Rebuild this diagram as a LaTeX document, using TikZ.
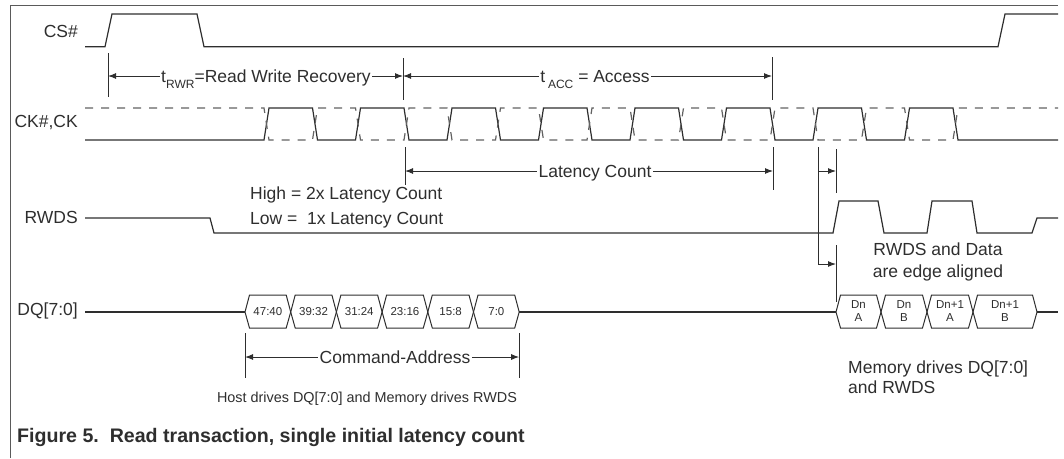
\documentclass[tikz,border=0pt]{standalone}
\usepackage{fontspec}
\setmainfont{Liberation Sans}
\usetikzlibrary{arrows.meta}
\definecolor{ink}{HTML}{2E2E2E}
\definecolor{frame}{HTML}{5A5A5A}

\tikzset{
  wave/.style={draw=ink, line width=1.2pt, line join=miter},
  cknot/.style={draw=ink!75, line width=1.2pt, dash pattern=on 8pt off 8pt},
  lbl/.style={text=ink, font=\fontsize{17.5}{20}\selectfont, inner sep=0pt},
  siglbl/.style={lbl, anchor=east},
  dimtxt/.style={lbl, anchor=base, inner xsep=1.5pt},
  tickln/.style={draw=ink, line width=1pt},
  dimln/.style={draw=ink, line width=1pt},
  arr/.style={-{Latex[length=8pt,width=6pt]}},
  busbox/.style={draw=ink, line width=1pt, line join=miter},
  cell/.style={text=ink, font=\fontsize{11.5}{12.5}\selectfont, inner sep=0pt, align=center},
}

\begin{document}
\begin{tikzpicture}[x=1pt, y=-1pt]
\useasboundingbox (0,0) rectangle (1064,458);

% frame rules
\draw[frame, line width=1pt] (10,458) -- (10,5) -- (1058,5);

% ---------------- CS# ----------------
\node[siglbl] (lcs) at (78,31) {CS\#};
\draw[wave] (85,46.7) -- (105,46.7) -- (112,14) -- (197,14) -- (204,46.7)
  -- (998,46.7) -- (1005,14) -- (1058,14);

% ---------------- timing: tRWR and tACC ----------------
\coordinate (rwrT) at (108,53);  \coordinate (rwrB) at (108,97);
\coordinate (midT) at (403,58);  \coordinate (midB) at (403,100);
\coordinate (accT) at (772,57);  \coordinate (accB) at (772,100);
\draw[tickln] (rwrT) -- (rwrB);
\draw[tickln] (midT) -- (midB);
\draw[tickln] (accT) -- (accB);
\coordinate (rwrL) at (108,76);
\coordinate (midL) at (403,76);
\coordinate (accL) at (772,76);

\node[dimtxt] (trwr) at (266,82.5)
  {t\raisebox{-5.5pt}{\fontsize{12}{12}\selectfont RWR}=Read Write Recovery};
\node[dimtxt] (tacc) at (595,82.5)
  {t\,\raisebox{-6pt}{\fontsize{12}{12}\selectfont ACC} = Access};
\draw[dimln,arr] (trwr.west |- rwrL) -- (rwrL);
\draw[dimln,arr] (trwr.east |- midL) -- (midL);
\draw[dimln,arr] (tacc.west |- midL) -- (midL);
\draw[dimln,arr] (tacc.east |- accL) -- (accL);

% ---------------- CK#, CK ----------------
\node[siglbl] (lck) at (78,123) {CK\#,CK};
\draw[wave] (85,140)
  foreach \k in {0,...,7} {
    -- ({264+91.5*\k},140) -- ({269+91.5*\k},108)
    -- ({312.5+91.5*\k},108) -- ({317.5+91.5*\k},140)
  } -- (1058,140);
\draw[cknot] (85,108)
  foreach \k in {0,...,7} {
    -- ({264+91.5*\k},108) -- ({269+91.5*\k},140)
    -- ({312.5+91.5*\k},140) -- ({317.5+91.5*\k},108)
  } -- (1058,108);

% ---------------- Latency Count ----------------
\coordinate (latT) at (405,147); \coordinate (latB) at (405,185);
\coordinate (latRT) at (773,147); \coordinate (latRB) at (773,190);
\draw[tickln] (latT) -- (latB);
\draw[tickln] (latRT) -- (latRB);
\coordinate (latL) at (405,171);
\coordinate (latR) at (773,171);
\node[dimtxt] (lat) at (595,177.5) {Latency Count};
\draw[dimln,arr] (lat.west |- latL) -- (latL);
\draw[dimln,arr] (lat.east |- latR) -- (latR);

\node[lbl, anchor=west] (hi) at (250,195) {High = 2x Latency Count};
\node[lbl, anchor=west] (lo) at (250,220) {Low = \ 1x Latency Count};

% ---------------- RWDS ----------------
\node[siglbl] (lrw) at (78,217) {RWDS};
\draw[wave] (85,218) -- (210,218) -- (214,233) -- (833,233) -- (839,201)
  -- (878,201) -- (884,233) -- (927,233) -- (932,201) -- (972,201)
  -- (977,233) -- (1032,233) -- (1037,218) -- (1058,218);

% edge alignment markers
\coordinate (eaTop) at (818,147);
\coordinate (eaMid) at (818,171);
\coordinate (eaBot) at (818,264);
\coordinate (eaMidR) at (836,171);
\coordinate (eaBotR) at (836,264);
\draw[dimln] (eaTop) -- (eaBot);
\draw[dimln,arr] (eaMid) -- (eaMidR);
\draw[dimln,arr] (eaBot) -- (eaBotR);
\draw[tickln] (836,149) -- (836,193);
\draw[tickln] (836,245) -- (836,302);
\node[lbl, align=center, font=\fontsize{17.5}{22}\selectfont] (edge) at (938,262)
  {RWDS and Data\\are edge aligned};

% ---------------- DQ[7:0] ----------------
\node[siglbl] (ldq) at (78,311) {DQ[7:0]};
\draw[wave] (85,312) -- (245,312);
\draw[wave] (519.2,312) -- (836,312);
\draw[wave] (1037,312) -- (1058,312);

% command / address bytes
\foreach \lab [count=\i from 0] in {47:40,39:32,31:24,23:16,15:8,7:0} {
  \pgfmathsetmacro{\xa}{245+45.7*\i}
  \pgfmathsetmacro{\xb}{245+45.7*(\i+1)}
  \draw[busbox] (\xa,312) -- (\xa+4.5,295) -- (\xb-4.5,295) -- (\xb,312)
    -- (\xb-4.5,328) -- (\xa+4.5,328) -- cycle;
  \node[cell] (ca\i) at ({(\xa+\xb)/2},312) {\lab};
}

% data bytes
\foreach \xa/\xb/\lab [count=\i] in {836/881/{Dn\\A},881/927/{Dn\\B},
    927/973/{Dn+1\\A},973/1037/{Dn+1\\B}} {
  \draw[busbox] (\xa,312) -- (\xa+4.5,295) -- (\xb-4.5,295) -- (\xb,312)
    -- (\xb-4.5,328) -- (\xa+4.5,328) -- cycle;
  \node[cell] (d\i) at ({(\xa+\xb)/2},311) {\lab};
}

% Command-Address span
\coordinate (caT) at (245,333); \coordinate (caB) at (245,378);
\coordinate (caRT) at (519.2,333); \coordinate (caRB) at (519.2,378);
\draw[tickln] (caT) -- (caB);
\draw[tickln] (caRT) -- (caRB);
\coordinate (caL) at (245,357);
\coordinate (caR) at (519.2,357);
\node[dimtxt] (cmd) at (395,363.5) {Command-Address};
\draw[dimln,arr] (cmd.west |- caL) -- (caL);
\draw[dimln,arr] (cmd.east |- caR) -- (caR);

\node[lbl, font=\fontsize{14.4}{17}\selectfont] (host) at (367,399)
  {Host drives DQ[7:0] and Memory drives RWDS};
\node[lbl, anchor=west, align=left, font=\fontsize{17.5}{20.5}\selectfont] (mem)
  at (848,377) {Memory drives DQ[7:0]\\and RWDS};

% ---------------- caption ----------------
\node[lbl, anchor=west, font=\bfseries\fontsize{19.6}{22}\selectfont] (cap)
  at (17,437) {Figure 5.\ \ Read transaction, single initial latency count};
\end{tikzpicture}
\end{document}
